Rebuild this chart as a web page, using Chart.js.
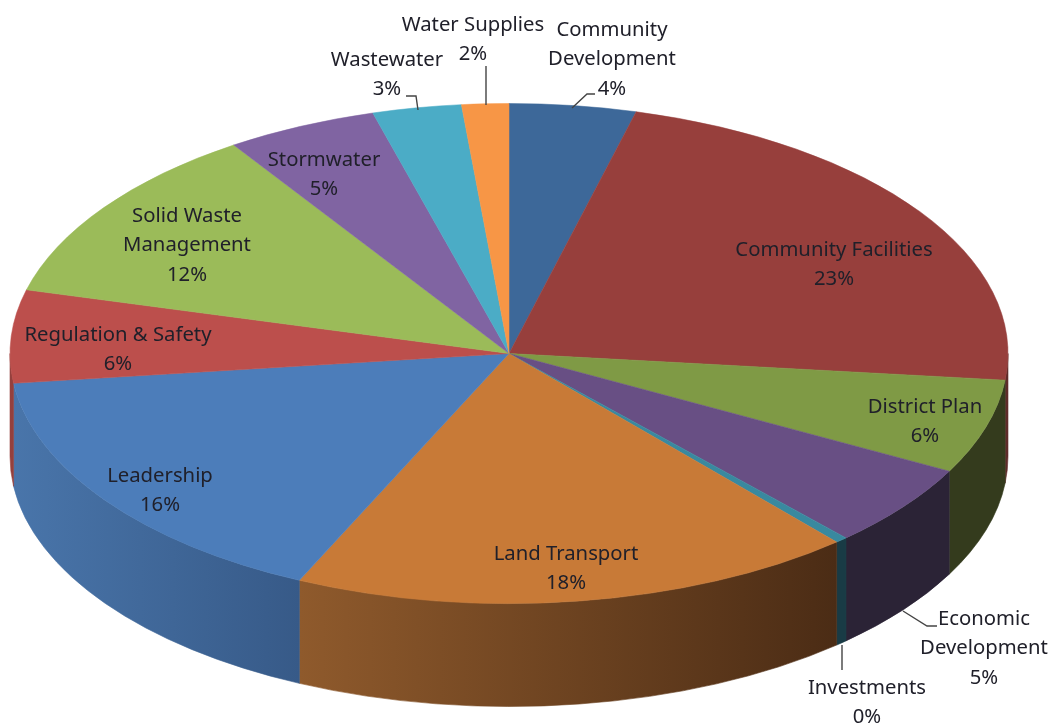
<!DOCTYPE html>
<html>
<head>
<meta charset="utf-8">
<title>Spending by activity</title>
<script src="https://cdn.jsdelivr.net/npm/chart.js@4"></script>
<style>
  html, body { margin: 0; padding: 0; background: #fff; }
  canvas { display: block; }
</style>
</head>
<body>
<canvas id="pie" width="1052" height="724"></canvas>
<script>
// clockwise from twelve o'clock
const categories = [
    ['Community', 'Development'], 'Community Facilities', 'District Plan',
    ['Economic', 'Development'], 'Investments', 'Land Transport', 'Leadership',
    'Regulation & Safety', ['Solid Waste', 'Management'], 'Stormwater',
    'Wastewater', 'Water Supplies'
];
const shares = [4.1, 22.6, 6.1, 5.4, 0.4, 18.3, 16.2, 6.0, 11.6, 4.9, 2.88, 1.52];

const topColors = [
    '#3d6899', '#973f3c', '#7f9a45', '#684f84', '#39899f', '#c87a37',
    '#4c7dba', '#bc4f4c', '#9bbb59', '#8064a2', '#4bacc6', '#f79646'
];
const wallColors = [
    ['#2a4a6e', '#2a4a6e'], ['#5e2b29', '#5e2b29'], ['#343b1d', '#343b1d'],
    ['#2b2336', '#2b2336'], ['#193b45', '#193b45'], ['#8f5a2c', '#4b2c15'],
    ['#4975aa', '#375a88'], ['#94403d', '#94403d'], ['#6f8a3f', '#6f8a3f'],
    ['#5c4775', '#5c4775'], ['#357b8e', '#357b8e'], ['#b06a30', '#b06a30']
];

// label centres, first line, one entry per category
const labelSpots = [
    [612, 30], [834, 250], [925, 407], [984, 619], [867, 688], [566, 554],
    [160, 476], [118, 335], [187, 216], [324, 160], [387, 60], [473, 25]
];
const leaderLines = [
    [[486, 66], [486, 105]],
    [[406, 96], [416, 96], [418, 110]],
    [[595, 94], [587, 94], [572, 108]],
    [[937, 626], [927, 626], [903, 611]],
    [[842, 645], [842, 670]]
];

const radiusX = 499;
const radiusY = 250;
const depth = 103;
const lineHeight = 29.5;

function drawWalls(chart) {
    const ctx = chart.ctx;
    const arcs = chart.getDatasetMeta(0).data;
    const cx = arcs[0].x, cy = arcs[0].y;
    arcs.forEach((arc, i) => {
        // only the front half of the rim can be seen
        const from = Math.max(arc.startAngle, 0);
        const to = Math.min(arc.endAngle, Math.PI);
        if (to <= from) return;
        const x1 = cx + radiusX * Math.cos(from);
        const x2 = cx + radiusX * Math.cos(to);
        const grad = ctx.createLinearGradient(x2, 0, x1, 0);
        grad.addColorStop(0, wallColors[i][0]);
        grad.addColorStop(1, wallColors[i][1]);
        ctx.beginPath();
        ctx.ellipse(cx, cy, radiusX, radiusY, 0, from, to);
        ctx.ellipse(cx, cy + depth, radiusX, radiusY, 0, to, from, true);
        ctx.closePath();
        ctx.fillStyle = grad;
        ctx.fill();
        // hairline stroke hides the seam between neighbouring walls
        ctx.strokeStyle = grad;
        ctx.lineWidth = 0.6;
        ctx.stroke();
    });
}

const tiltPlugin = {
    id: 'tilt',
    beforeDatasetsDraw(chart) {
        drawWalls(chart);
        const arc = chart.getDatasetMeta(0).data[0];
        const ctx = chart.ctx;
        ctx.save();
        ctx.translate(arc.x, arc.y);
        ctx.scale(radiusX / arc.outerRadius, radiusY / arc.outerRadius);
        ctx.translate(-arc.x, -arc.y);
    },
    afterDatasetsDraw(chart) {
        chart.ctx.restore();
    }
};

const labelPlugin = {
    id: 'sliceLabels',
    afterDraw(chart) {
        const ctx = chart.ctx;
        const total = shares.reduce((a, b) => a + b, 0);
        ctx.save();
        ctx.strokeStyle = '#444';
        ctx.lineWidth = 1.4;
        leaderLines.forEach(points => {
            ctx.beginPath();
            points.forEach((p, n) => n ? ctx.lineTo(p[0], p[1]) : ctx.moveTo(p[0], p[1]));
            ctx.stroke();
        });
        ctx.font = '20.3px "Noto Sans"';
        ctx.fillStyle = '#20202a';
        ctx.textAlign = 'center';
        ctx.textBaseline = 'middle';
        categories.forEach((name, i) => {
            const lines = [].concat(name, Math.round(shares[i] / total * 100) + '%');
            lines.forEach((text, n) => {
                ctx.fillText(text, labelSpots[i][0], labelSpots[i][1] + n * lineHeight);
            });
        });
        ctx.restore();
    }
};

new Chart(document.getElementById('pie'), {
    type: 'pie',
    data: {
        labels: categories,
        datasets: [{
            data: shares,
            backgroundColor: topColors,
            borderColor: topColors,
            borderWidth: 0.5,
            clip: false
        }]
    },
    options: {
        responsive: false,
        animation: false,
        devicePixelRatio: 1,
        layout: { padding: { right: 34, bottom: 17 } },
        plugins: { legend: { display: false }, tooltip: { enabled: false } }
    },
    plugins: [tiltPlugin, labelPlugin]
});
</script>
</body>
</html>
